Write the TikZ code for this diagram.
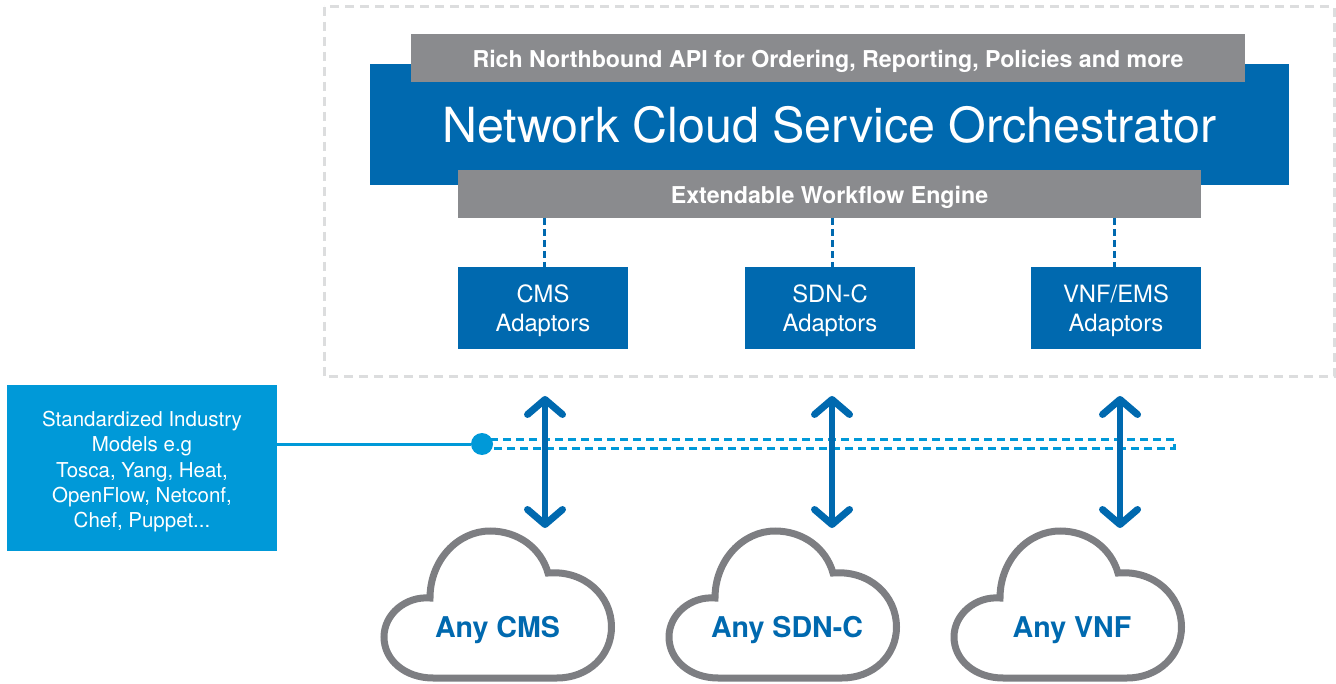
\documentclass[tikz,border=0pt]{standalone}
\usepackage{fontspec}
\setmainfont{TeX Gyre Heros}
\usetikzlibrary{arrows.meta}
\definecolor{nblue}{HTML}{0069AF}
\definecolor{lblue}{HTML}{0099D8}
\definecolor{bargray}{HTML}{8A8B8E}
\definecolor{cloudgray}{HTML}{7D7E82}
\definecolor{framegray}{HTML}{DCDDDE}
\newcommand{\lowerby}[1]{\rule{0pt}{#1pt}}
\tikzset{
  x=1pt,y=-1pt,
  boxbase/.style={anchor=north west,inner sep=0pt,outer sep=0pt,align=center,text=white},
  bluebox/.style={boxbase,fill=nblue},
  graybar/.style={boxbase,fill=bargray,minimum height=48pt,font=\bfseries\fontsize{23.2}{28}\selectfont},
  adaptor/.style={bluebox,minimum width=170pt,minimum height=82pt,font=\fontsize{23.8}{29}\selectfont},
  dashlink/.style={draw=nblue,line width=3pt,dash pattern=on 7pt off 4pt},
  updown/.style={draw=nblue,line width=6pt,{Straight Barb[length=15pt,width=35pt,line width=7pt,round]}-{Straight Barb[length=15pt,width=35pt,line width=7pt,round]}},
  buslink/.style={draw=lblue,line width=3pt,dash pattern=on 8pt off 5pt},
  cloudline/.style={draw=cloudgray,line width=7pt,line join=miter,fill=white},
  cloudtext/.style={text=nblue,inner sep=0pt,font=\bfseries\fontsize{28.6}{32}\selectfont}
}
\newcommand{\cloudat}[4]{%
  \draw[cloudline,shift={(#1,0)}] (430,598)
    .. controls (430,560) and (458,531) .. (490,531)
    .. controls (518,531) and (541,548) .. (548,573)
    .. controls (585,570) and (611.5,596) .. (611.5,627)
    .. controls (611.5,656) and (588,678) .. (557,678)
    -- (433,678)
    .. controls (405,678) and (384,660) .. (384,637)
    .. controls (384,614) and (406,596) .. (430,598) -- cycle;
  \node[cloudtext] (#2) at (#4,630) {#3};}
\begin{document}
\begin{tikzpicture}
\useasboundingbox (0,0) rectangle (1336,684);
% frame
\draw[framegray,line width=3pt,dash pattern=on 9pt off 6pt] (324,7) rectangle (1334,377);
% orchestrator
\node[bluebox,minimum width=919pt,minimum height=121pt,font=\fontsize{48.4}{56}\selectfont] (orch) at (370,64) {Network Cloud Service Orchestrator};
\node[graybar,minimum width=834pt] (api) at (411,34) {\lowerby{24}Rich Northbound API for Ordering, Reporting, Policies and more};
\node[graybar,minimum width=743pt] (engine) at (458,170) {\lowerby{25}Extendable Workflow Engine};
% adaptors
\node[adaptor] (cms) at (458,267) {\lowerby{24}CMS\\Adaptors};
\node[adaptor] (sdn) at (745,267) {\lowerby{24}SDN-C\\Adaptors};
\node[adaptor] (vnf) at (1031,267) {\lowerby{24}VNF/EMS\\Adaptors};
\coordinate (e1) at (544,218); \coordinate (a1) at (544,267);
\coordinate (e2) at (832,218); \coordinate (a2) at (832,267);
\coordinate (e3) at (1114,218); \coordinate (a3) at (1114,267);
\draw[dashlink] (e1) -- (a1);
\draw[dashlink] (e2) -- (a2);
\draw[dashlink] (e3) -- (a3);
% models
\node[boxbase,fill=lblue,minimum width=270pt,minimum height=166pt,font=\fontsize{20.5}{25.3}\selectfont] (models) at (7,385)
  {\lowerby{23}Standardized Industry\\Models e.g\\Tosca, Yang, Heat,\\OpenFlow, Netconf,\\Chef, Puppet...};
\node[circle,fill=lblue,minimum size=22pt,inner sep=0pt] (dot) at (482,444) {};
\draw[lblue,line width=3pt] (dot.west -| models.east) -- (dot);
\coordinate (b1) at (490,439.5); \coordinate (b2) at (1174,439.5);
\coordinate (b3) at (1174,448.5); \coordinate (b4) at (490,448.5);
\draw[buslink] (b1) -- (b2) -- (b3) -- (b4);
% clouds
\cloudat{0}{c1}{Any CMS}{497.5}
\cloudat{285}{c2}{Any SDN-C}{787}
\cloudat{570}{c3}{Any VNF}{1072}
% arrows
\coordinate (u1) at (545,396); \coordinate (d1) at (545,528);
\coordinate (u2) at (832,396); \coordinate (d2) at (832,528);
\coordinate (u3) at (1120,396); \coordinate (d3) at (1120,528);
\draw[updown] (u1) -- (d1);
\draw[updown] (u2) -- (d2);
\draw[updown] (u3) -- (d3);
\end{tikzpicture}
\end{document}
